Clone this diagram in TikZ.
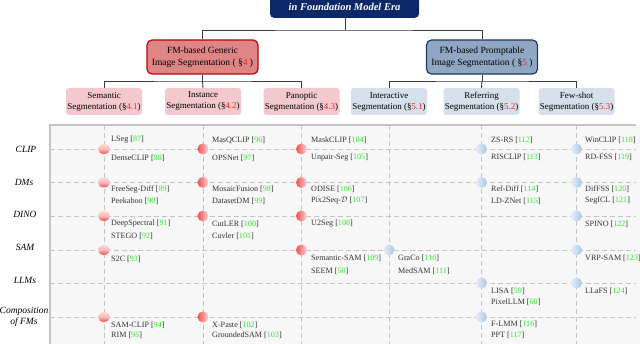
\documentclass[tikz,border=0pt]{standalone}
\usepackage{fontspec}
\setmainfont{Liberation Serif}
\usetikzlibrary{shapes.geometric}
\definecolor{navy}{HTML}{0D2869}
\definecolor{genfill}{HTML}{E08585}
\definecolor{gendraw}{HTML}{C00000}
\definecolor{prmfill}{HTML}{8FA7C2}
\definecolor{prmdraw}{HTML}{1F3864}
\definecolor{subpink}{HTML}{F4C9CD}
\definecolor{subblue}{HTML}{D6E0EA}
\definecolor{gridc}{HTML}{C4C4C4}
\definecolor{tablefill}{HTML}{F7F7F7}
\definecolor{refgreen}{HTML}{2EE82E}
\definecolor{secred}{HTML}{FF2020}
\definecolor{linec}{HTML}{3A3A3A}
\definecolor{mred}{HTML}{F05050}
\definecolor{mredl}{HTML}{FFD6D6}
\definecolor{mblue}{HTML}{A9C5E6}
\definecolor{mbluel}{HTML}{E6EFF9}
\newcommand\sref[1]{\textcolor{secred}{#1}}
\newcommand\ent[5]{\node[entry] (#1) at (#2,#3) {#4 [\textcolor{refgreen}{#5}]};}
\tikzset{
  titlebox/.style={fill=navy, rounded corners=4pt, text=white, minimum width=149pt,
    inner ysep=0pt, text height=30pt, text depth=7pt,
    font=\fontsize{10.5}{12}\selectfont\bfseries\itshape},
  genbox/.style={rounded corners=5pt, line width=1.2pt, minimum width=111pt, minimum height=34pt,
    align=center, font=\fontsize{9.5}{11.5}\selectfont, inner sep=1pt},
  subbox/.style={rounded corners=3pt, minimum width=76pt, minimum height=27pt,
    align=center, font=\fontsize{9}{11}\selectfont, inner sep=1pt},
  conn/.style={draw=linec, line width=0.9pt},
  gridd/.style={draw=gridc, line width=0.9pt, dash pattern=on 5pt off 3pt},
  entry/.style={anchor=west, inner sep=0pt, font=\fontsize{8.1}{9.6}\selectfont, text=black!80},
  rowlab/.style={align=center, inner sep=0pt, font=\fontsize{9.5}{10.5}\selectfont\itshape},
  mksem/.style={ellipse, minimum width=12pt, minimum height=10pt, inner sep=0pt,
    top color=mredl, bottom color=mred, middle color=mred!40!white},
  mkred/.style={circle, minimum size=11pt, inner sep=0pt, left color=mred, right color=mredl},
  mkblue/.style={circle, minimum size=11pt, inner sep=0pt, left color=mbluel, right color=mblue},
}
\begin{document}
\begin{tikzpicture}[x=1pt,y=-1pt]
\clip (0,0) rectangle (640,344);
\fill[white] (0,0) rectangle (640,344);
% table background
\fill[tablefill] (50,125) rectangle (640,344);
% header hierarchy
\node[titlebox, anchor=south] (title) at (344.5,18) {in Foundation Model Era};
\node[genbox, fill=genfill, draw=gendraw] (gen) at (202.5,57) {FM-based Generic\\Image Segmentation ( §\sref{4} )};
\node[genbox, fill=prmfill, draw=prmdraw] (prm) at (482,57) {FM-based Promptable\\Image Segmentation ( §\sref{5} )};
\coordinate (j1) at (345,30);
\draw[conn] (title.south -| j1) -- (j1);
\draw[conn] (gen.north) |- (j1) -| (prm.north);
\node[subbox, fill=subpink] (sem) at (104,101.5) {Semantic\\Segmentation (§\sref{4.1})};
\node[subbox, fill=subpink] (ins) at (203,101.5) {Instance\\Segmentation (§\sref{4.2})};
\node[subbox, fill=subpink] (pan) at (301.5,101.5) {Panoptic\\Segmentation (§\sref{4.3})};
\node[subbox, fill=subblue] (int) at (389,101.5) {Interactive\\Segmentation (§\sref{5.1})};
\node[subbox, fill=subblue] (rfr) at (481.5,101.5) {Referring\\Segmentation (§\sref{5.2})};
\node[subbox, fill=subblue] (fsh) at (576.5,101.5) {Few-shot\\Segmentation (§\sref{5.3})};
\coordinate (j2) at (202.5,81);
\coordinate (j3) at (482,81);
\draw[conn] (gen.south) -- (j2);
\draw[conn] (sem.north) |- (j2) -| (pan.north);
\draw[conn] (j2) -- (ins.north);
\draw[conn] (prm.south) -- (j3);
\draw[conn] (int.north) |- (j3) -| (fsh.north);
\draw[conn] (j3) -- (rfr.north);
% grid
\coordinate (tl) at (50,125);
\coordinate (tr) at (636,125);
\coordinate (bl) at (50,344);
\foreach \n in {sem,ins,pan,int,rfr,fsh}{
  \draw[gridd] (\n.south |- tl) -- (\n.south |- bl);
}
\foreach \y in {149,182.5,216,250,283,317}{
  \draw[gridd] (50,\y) -- (636,\y);
}
\draw[gridc, line width=1.6pt] (bl) -- (tl) -- (tr);
% row labels
\node[rowlab] (lclip) at (26,149) {CLIP};
\node[rowlab] (ldms) at (24,182) {DMs};
\node[rowlab] (ldino) at (25,214.5) {DINO};
\node[rowlab] (lsam) at (25,247.5) {SAM};
\node[rowlab] (lllm) at (25,280.5) {LLMs};
\node[rowlab] (lcomp) at (24,317) {Composition\\of FMs};
% markers
\foreach \y [count=\i] in {149,182.5,216,250,317}{ \node[mksem] (ms\i) at (104,\y) {}; }
\foreach \y [count=\i] in {149,182.5,216,317}{ \node[mkred] (mi\i) at (203,\y) {}; }
\foreach \y [count=\i] in {149,182.5,216,250}{ \node[mkred] (mp\i) at (301.5,\y) {}; }
\node[mkblue] (mn1) at (389,250) {};
\foreach \y [count=\i] in {149,182.5,283,317}{ \node[mkblue] (mr\i) at (481.5,\y) {}; }
\foreach \y [count=\i] in {149,182.5,216,250,283}{ \node[mkblue] (mf\i) at (576.5,\y) {}; }
% semantic entries
\ent{e87}{111}{140}{LSeg}{87}
\ent{e88}{111}{158}{DenseCLIP}{88}
\ent{e89}{111}{189.5}{FreeSeg-Diff}{89}
\ent{e90}{111}{201}{Peekaboo}{90}
\ent{e91}{111}{224}{DeepSpectral}{91}
\ent{e92}{111}{236}{STEGO}{92}
\ent{e93}{111}{259}{S2C}{93}
\ent{e94}{111}{325}{SAM-CLIP}{94}
\ent{e95}{111}{335.5}{RIM}{95}
% instance entries
\ent{e96}{212}{140}{MasQCLIP}{96}
\ent{e97}{212}{158}{OPSNet}{97}
\ent{e98}{212}{189.5}{MosaicFusion}{98}
\ent{e99}{212}{201}{DatasetDM}{99}
\ent{e100}{212}{224}{CutLER}{100}
\ent{e101}{212}{236}{Cuvler}{101}
\ent{e102}{212}{325}{X-Paste}{102}
\ent{e103}{212}{335.5}{GroundedSAM}{103}
% panoptic entries
\ent{e104}{311}{140}{MaskCLIP}{104}
\ent{e105}{311}{157.5}{Unpair-Seg}{105}
\ent{e106}{311}{189.5}{ODISE}{106}
\ent{e107}{311}{201}{Pix2Seq-$\mathcal{D}$}{107}
\ent{e108}{311}{224}{U2Seg}{108}
\ent{e109}{311}{258.5}{Semantic-SAM}{109}
\ent{e50}{311}{271}{SEEM}{50}
% interactive entries
\ent{e110}{398}{258.5}{GraCo}{110}
\ent{e111}{398}{271}{MedSAM}{111}
% referring entries
\ent{e112}{491}{140}{ZS-RS}{112}
\ent{e113}{491}{157.5}{RISCLIP}{113}
\ent{e114}{491}{189.5}{Ref-Diff}{114}
\ent{e115}{491}{201}{LD-ZNet}{115}
\ent{e59}{491}{291}{LISA}{59}
\ent{e60}{491}{302}{PixelLLM}{60}
\ent{e116}{491}{324.5}{F-LMM}{116}
\ent{e117}{491}{335.5}{PPT}{117}
% few-shot entries
\ent{e118}{585}{140}{WinCLIP}{118}
\ent{e119}{585}{157.5}{RD-FSS}{119}
\ent{e120}{585}{189.5}{DifFSS}{120}
\ent{e121}{585}{201}{SegICL}{121}
\ent{e122}{585}{224}{SPINO}{122}
\ent{e123}{585}{258.5}{VRP-SAM}{123}
\ent{e124}{585}{291}{LLaFS}{124}
\end{tikzpicture}
\end{document}
